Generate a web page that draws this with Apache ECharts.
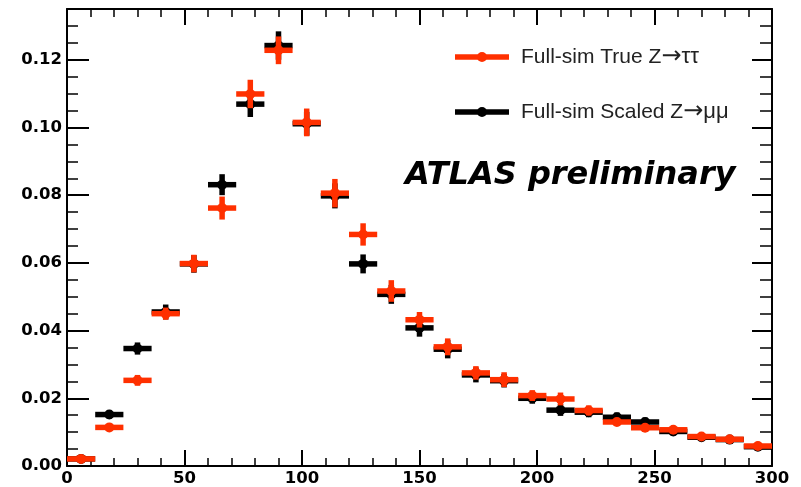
<!DOCTYPE html>
<html>
<head>
<meta charset="utf-8">
<script src="https://cdn.jsdelivr.net/npm/echarts@6/dist/echarts.min.js"></script>
<style>
  html, body { margin: 0; padding: 0; background: #fff; }
  #chart { width: 801px; height: 487px; }
</style>
</head>
<body>
<div id="chart"></div>
<script>
// Histogram bins: 12-unit wide bins from 0 to 300
const binCenters = [6, 18, 30, 42, 54, 66, 78, 90, 102, 114, 126, 138, 150,
                    162, 174, 186, 198, 210, 222, 234, 246, 258, 270, 282, 294];
const binWidth = 12;

// Full-sim True Z->tautau
const tauValues = [0.0021, 0.0114, 0.0253, 0.0450, 0.0598, 0.0762, 0.1099, 0.1228, 0.1015,
                   0.0806, 0.0684, 0.0517, 0.0432, 0.0352, 0.0275, 0.0255, 0.0208, 0.0198,
                   0.0164, 0.0130, 0.0113, 0.0107, 0.0087, 0.0079, 0.0059];
const tauErrors = [0.0004, 0.0008, 0.0016, 0.0018, 0.0026, 0.0034, 0.0042, 0.0041, 0.0041,
                   0.0042, 0.0033, 0.0032, 0.0023, 0.0025, 0.0020, 0.0022, 0.0016, 0.0019,
                   0.0015, 0.0012, 0.0011, 0.0011, 0.0009, 0.0009, 0.0008];

// Full-sim Scaled Z->mumu
const muValues = [0.0021, 0.0152, 0.0347, 0.0455, 0.0597, 0.0831, 0.1069, 0.1242, 0.1011,
                  0.0798, 0.0597, 0.0507, 0.0408, 0.0345, 0.0269, 0.0252, 0.0200, 0.0165,
                  0.0159, 0.0144, 0.0130, 0.0102, 0.0085, 0.0078, 0.0057];
const muErrors = [0.0004, 0.0012, 0.0018, 0.0022, 0.0026, 0.0031, 0.0038, 0.0042, 0.0035,
                  0.0037, 0.0028, 0.0028, 0.0026, 0.0027, 0.0022, 0.0020, 0.0016, 0.0017,
                  0.0015, 0.0014, 0.0013, 0.0012, 0.0011, 0.0010, 0.0009];

// Axis tick labels
const xTickLabels = ['0', '50', '100', '150', '200', '250', '300'];
const yTickLabels = ['0.00', '0.02', '0.04', '0.06', '0.08', '0.10', '0.12'];

// Legend entries: [text before arrow, arrow, decay products]
const tauLegend = ['Full-sim True Z', '\u2192', '\u03c4\u03c4'];
const muLegend = ['Full-sim Scaled Z', '\u2192', '\u03bc\u03bc'];

const RED = '#ff3000';
const BLACK = '#000000';
const LW = 5.5;

const X_MAX = 300, Y_MAX = 0.135;

function toData(vals, errs) {
  return binCenters.map((c, i) => [c, vals[i], errs[i]]);
}

// Draws each bin as a horizontal bar spanning the bin, a vertical error bar and a dot
function errorPoint(color) {
  return function (params, api) {
    const x = api.value(0), y = api.value(1), e = api.value(2);
    const l = api.coord([x - binWidth / 2, y]);
    const r = api.coord([x + binWidth / 2, y]);
    const t = api.coord([x, y + e]);
    const b = api.coord([x, y - e]);
    return {
      type: 'group',
      children: [
        { type: 'line', shape: { x1: l[0], y1: l[1], x2: r[0], y2: r[1] }, style: { stroke: color, lineWidth: LW } },
        { type: 'line', shape: { x1: t[0], y1: t[1], x2: b[0], y2: b[1] }, style: { stroke: color, lineWidth: LW } },
        { type: 'circle', shape: { cx: (l[0] + r[0]) / 2, cy: l[1], r: 5 }, style: { fill: color } }
      ]
    };
  };
}

const labelFont = { fontFamily: 'DejaVu Sans', fontWeight: 'bold', fontSize: 16.5, color: '#000' };
const lineStyle = { color: '#000', width: 2 };

function xAx(position, showLabel) {
  return {
    type: 'value', position: position, min: 0, max: X_MAX, interval: 50,
    axisLine: { show: true, onZero: false, lineStyle: lineStyle },
    axisTick: { show: true, inside: true, length: 16, lineStyle: { color: '#000', width: 2 } },
    minorTick: { show: true, splitNumber: 5, length: 8, lineStyle: { color: '#000', width: 1.5 } },
    axisLabel: Object.assign({ show: showLabel, margin: 4,
      formatter: v => { const i = Math.round(v / 50); return Math.abs(v - i * 50) < 1e-6 ? xTickLabels[i] : ''; } }, labelFont),
    splitLine: { show: false }
  };
}

function yAx(position, interval, len, showLine, showLabel) {
  return {
    type: 'value', position: position, min: 0, max: Y_MAX, interval: interval,
    axisLine: { show: showLine, onZero: false, lineStyle: lineStyle },
    axisTick: { show: true, inside: true, length: len, lineStyle: { color: '#000', width: len > 15 ? 2 : 1.5 } },
    axisLabel: Object.assign({ show: showLabel, margin: 5, showMaxLabel: false,
      formatter: v => { const i = Math.round(v / 0.02); return Math.abs(v - i * 0.02) < 1e-9 ? yTickLabels[i] : ''; } }, labelFont),
    splitLine: { show: false }
  };
}

const legendRich = {
  t: { fontFamily: '"Liberation Sans", Arial, sans-serif', fontSize: 21, fill: '#222' },
  a: { fontFamily: '"DejaVu Sans", sans-serif', fontSize: 24, fill: '#222' },
  g: { fontFamily: '"Liberation Sans", Arial, sans-serif', fontSize: 22, fill: '#222' }
};

function legendText(parts, y) {
  return {
    type: 'text', x: 521, y: y,
    style: { text: '{t|' + parts[0] + '}{a|' + parts[1] + '}{g|' + parts[2] + '}', rich: legendRich, verticalAlign: 'middle' }
  };
}

const chart = echarts.init(document.getElementById('chart'), null, { renderer: 'canvas' });
chart.setOption({
  animation: false,
  backgroundColor: '#fff',
  grid: { left: 67, right: 29, top: 9, bottom: 21, containLabel: false },
  xAxis: [xAx('bottom', true), xAx('top', false)],
  yAxis: [
    yAx('left', 0.02, 22, true, true),
    yAx('left', 0.005, 11, false, false),
    yAx('right', 0.02, 20, true, false),
    yAx('right', 0.005, 12, false, false)
  ],
  series: [
    { name: muLegend.join(''), type: 'custom', xAxisIndex: 0, yAxisIndex: 0,
      renderItem: errorPoint(BLACK), data: toData(muValues, muErrors), z: 2 },
    { name: tauLegend.join(''), type: 'custom', xAxisIndex: 0, yAxisIndex: 0,
      renderItem: errorPoint(RED), data: toData(tauValues, tauErrors), z: 3 }
  ],
  graphic: [
    { type: 'line', shape: { x1: 455, y1: 57, x2: 509, y2: 57 }, style: { stroke: RED, lineWidth: LW } },
    { type: 'circle', shape: { cx: 482, cy: 57, r: 5 }, style: { fill: RED } },
    legendText(tauLegend, 57),
    { type: 'line', shape: { x1: 455, y1: 112, x2: 509, y2: 112 }, style: { stroke: BLACK, lineWidth: LW } },
    { type: 'circle', shape: { cx: 482, cy: 112, r: 5 }, style: { fill: BLACK } },
    legendText(muLegend, 112),
    { type: 'text', x: 405, y: 176, style: { text: 'ATLAS preliminary', fill: '#000', font: 'italic bold 32px "DejaVu Sans", sans-serif', verticalAlign: 'middle' } }
  ]
});
</script>
</body>
</html>
